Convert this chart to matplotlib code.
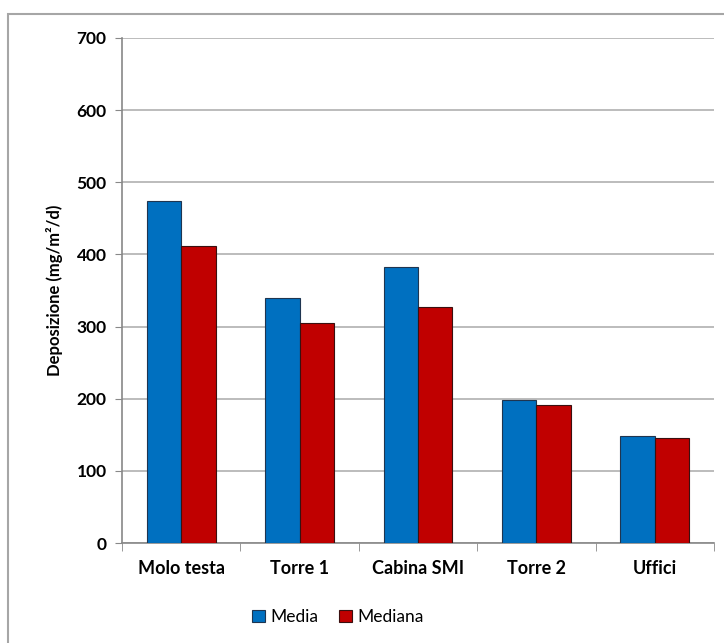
import numpy as np
import matplotlib.pyplot as plt
from matplotlib.patches import Rectangle

plt.rcParams['font.family'] = ['Lato', 'DejaVu Sans']

siti = ['Molo testa', 'Torre 1', 'Cabina SMI', 'Torre 2', 'Uffici']
media = [474, 339, 383, 198, 148]
mediana = [412, 305, 327, 191, 146]

fig = plt.figure(figsize=(7.24, 6.43), dpi=100)
# outer chart frame (cut by the image edges)
fig.patches.append(Rectangle((7.5 / 724, -0.1), 1.2, 1.1 - 14 / 643, transform=fig.transFigure,
                             fill=False, edgecolor='#a6a6a6', linewidth=1.5))

ax = fig.add_axes([122 / 724, 100 / 643, 592 / 724, 505 / 643])
x = np.arange(len(siti))
w = 0.29
ax.bar(x - w / 2, media, w, color='#0070c0', edgecolor='#1f3550', linewidth=0.8, label='Media', zorder=3)
ax.bar(x + w / 2, mediana, w, color='#c00000', edgecolor='#3a1010', linewidth=0.8, label='Mediana', zorder=3)

ax.set_xlim(-0.5, len(siti) - 0.5)
ax.set_ylim(0, 700)
ax.set_yticks(range(0, 701, 100))
ax.set_yticklabels([str(v) for v in range(0, 701, 100)], fontsize=12.5, fontweight='bold')
ax.set_xticks(x)
ax.set_xticklabels(siti, fontsize=13, fontweight='bold')
ax.set_xticks(np.arange(-0.5, len(siti)), minor=True)
ax.tick_params(axis='x', which='major', length=0, pad=12)
ax.tick_params(axis='x', which='minor', length=6, color='#888888')
ax.tick_params(axis='y', length=5, color='#888888', pad=6)
ax.grid(axis='y', color='#b0b0b0', linewidth=1.2, zorder=0)
for s in ['top', 'right']:
    ax.spines[s].set_visible(False)
for s in ['left', 'bottom']:
    ax.spines[s].set_color('#888888')
    ax.spines[s].set_linewidth(1.2)
ax.set_ylabel('Deposizione (mg/m²/d)', fontsize=12, fontweight='bold', labelpad=10)

ax.legend(loc='upper center', bbox_to_anchor=(0.365, -0.1), ncol=2, frameon=False,
          fontsize=12.5, handlelength=0.75, handleheight=0.75, handletextpad=0.3, columnspacing=1.2)

fig.savefig('out.png', dpi=100)
